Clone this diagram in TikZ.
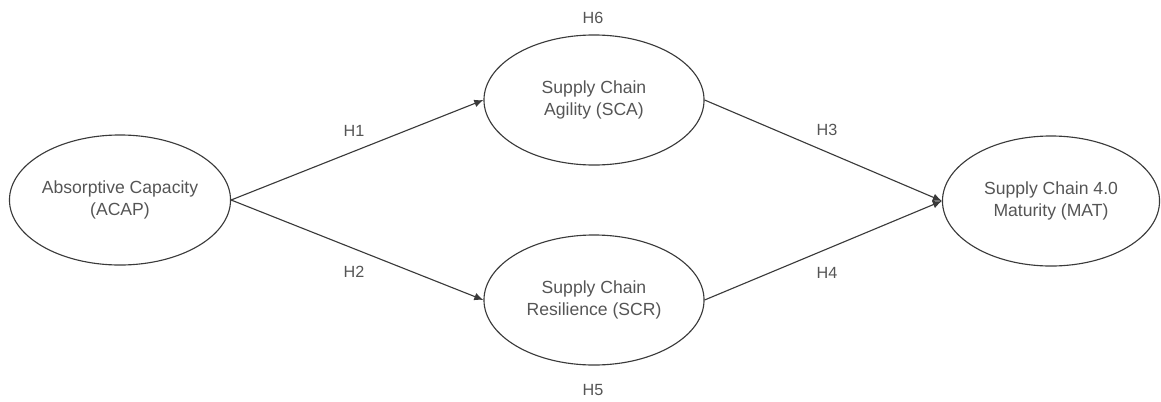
\documentclass[tikz,border=0pt]{standalone}
\usepackage{fontspec}
\setmainfont{Liberation Sans}
\usetikzlibrary{shapes.geometric,arrows.meta}

\definecolor{txtgrey}{HTML}{555555}
\definecolor{linegrey}{HTML}{3A3A3A}

\tikzset{
	construct/.style={ellipse,draw=linegrey,line width=0.8pt,minimum width=5.5cm,minimum height=3.25cm,
		align=center,text=txtgrey,font=\fontsize{12.5}{15.5}\selectfont,inner sep=0pt},
	hyp/.style={text=txtgrey,font=\fontsize{11.5}{13}\selectfont,inner sep=0pt},
	path/.style={->,line width=0.8pt,draw=linegrey,>={Latex[length=6.5pt,width=5.5pt]}}
}

\begin{document}
\begin{tikzpicture}[x=0.025cm,y=-0.025cm]
				\useasboundingbox (0,0) rectangle (1161,401);
				\node [construct] (acap) at (120,200) {Absorptive Capacity\\(ACAP)};
				\node [construct] (sca) at (594,100) {Supply Chain\\Agility (SCA)};
				\node [construct] (scr) at (594,300) {Supply Chain\\Resilience (SCR)};
				\node [construct,minimum width=5.425cm] (mat) at (1051,201) {Supply Chain 4.0\\Maturity (MAT)};
				\node [hyp] (h6) at (593,18) {H6};
				\node [hyp] (h5) at (593,390) {H5};
				\node [hyp] (h1) at (354,131) {H1};
				\node [hyp] (h2) at (354,272) {H2};
				\node [hyp] (h3) at (827,130) {H3};
				\node [hyp] (h4) at (827,273) {H4};
				\draw[path] (acap.east) -- (sca.west);
				\draw[path] (acap.east) -- (scr.west);
				\draw[path] (sca.east) -- (mat.west);
				\draw[path] (scr.east) -- (mat.west);
			\end{tikzpicture}
\end{document}
